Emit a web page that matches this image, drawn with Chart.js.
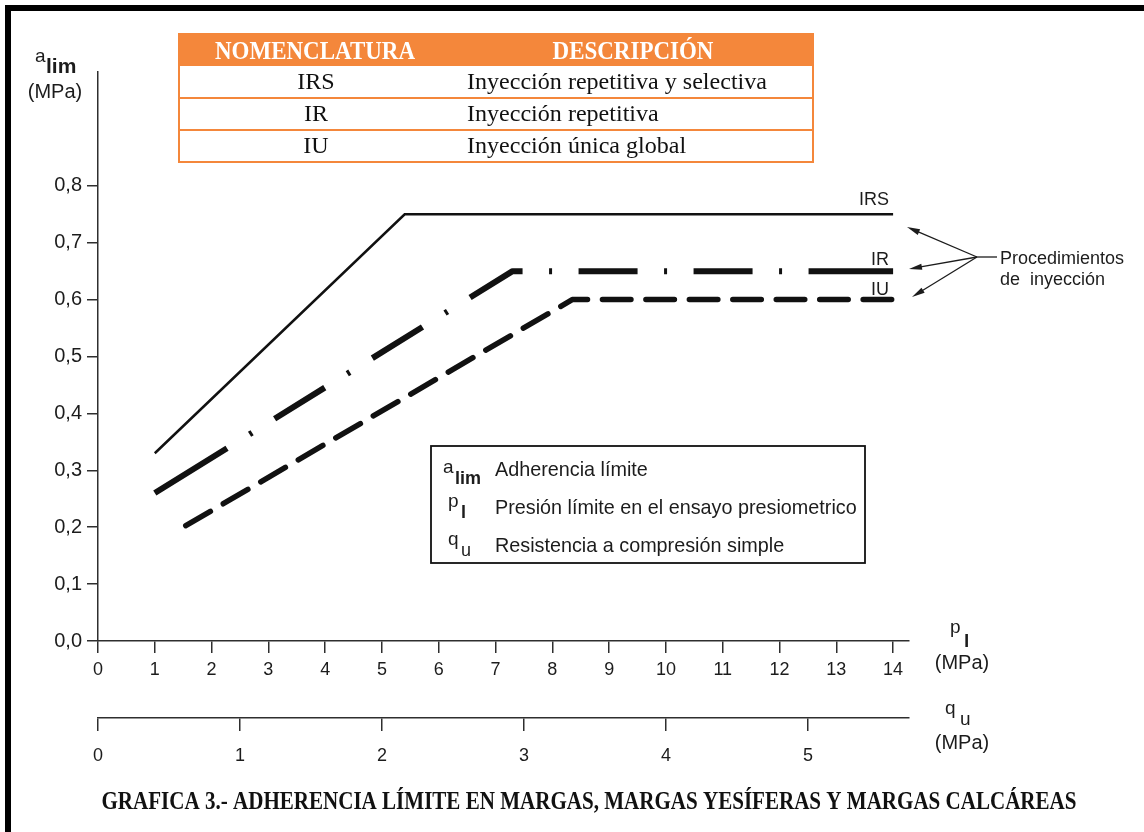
<!DOCTYPE html>
<html>
<head>
<meta charset="utf-8">
<script src="https://cdn.jsdelivr.net/npm/chart.js@4.4.1/dist/chart.umd.min.js"></script>
<style>
  html, body { margin: 0; padding: 0; background: #fff; }
  canvas { display: block; }
</style>
</head>
<body>
<canvas id="chart" width="1144" height="832"></canvas>
<script>
// ---- data ----
const pTicks = [0, 1, 2, 3, 4, 5, 6, 7, 8, 9, 10, 11, 12, 13, 14];
const qTicks = [0, 1, 2, 3, 4, 5];
const aTicks = [0, 0.1, 0.2, 0.3, 0.4, 0.5, 0.6, 0.7, 0.8];
const aTickLabels = ['0,0', '0,1', '0,2', '0,3', '0,4', '0,5', '0,6', '0,7', '0,8'];

const irsX = [1, 5.4, 14];
const irsY = [0.33, 0.75, 0.75];
const irX = [1, 7.3, 14];
const irY = [0.26, 0.65, 0.65];
const iuX = [1.5, 8.35, 14];
const iuY = [0.2, 0.6, 0.6];

const seriesNames = ['IRS', 'IR', 'IU'];
const tableHeaders = ['NOMENCLATURA', 'DESCRIPCIÓN'];
const descriptions = ['Inyección repetitiva y selectiva', 'Inyección repetitiva', 'Inyección única global'];
const symbolMain = ['a', 'p', 'q'];
const symbolSub = ['lim', 'l', 'u'];
const symbolText = ['Adherencia límite', 'Presión límite en el ensayo presiometrico', 'Resistencia a compresión simple'];
const calloutLines = ['Procedimientos', 'de  inyección'];
const chartTitle = 'GRAFICA 3.- ADHERENCIA LÍMITE EN MARGAS, MARGAS YESÍFERAS Y MARGAS CALCÁREAS';

const pMax = 14.28;      // p_l axis runs slightly past the last tick
const qPerP = 1 / 2.5;   // q_u scale relative to p_l

// ---- styles ----
const SANS = '"Liberation Sans", Arial, sans-serif';
const SERIF = '"Liberation Serif", "Times New Roman", serif';
const INK = '#1c1c1c';
const AXIS = '#2e2e2e';
const ORANGE = '#F4873B';

// dash-dot stroke: long end dashes, dash / dot / dash in between
const DOT_GAP = [26.5, 3, 26.5];
const dashDot = [85, ...DOT_GAP, 59, ...DOT_GAP, 59, ...DOT_GAP, 60, ...DOT_GAP, 59, ...DOT_GAP, 59, ...DOT_GAP, 120, 40];

const toPts = (xs, ys) => xs.map((x, i) => ({ x: x, y: ys[i] }));

function scaledText(ctx, text, x, y, k, align) {
  ctx.save();
  ctx.translate(x, y);
  ctx.scale(k, 1);
  ctx.textAlign = align;
  ctx.fillText(text, 0, 0);
  ctx.restore();
}

function arrow(ctx, x0, y0, x1, y1) {
  const ang = Math.atan2(y1 - y0, x1 - x0);
  const len = 13, hw = 3;
  ctx.beginPath();
  ctx.moveTo(x0, y0);
  ctx.lineTo(x1 - Math.cos(ang) * len * 0.8, y1 - Math.sin(ang) * len * 0.8);
  ctx.stroke();
  ctx.beginPath();
  ctx.moveTo(x1, y1);
  ctx.lineTo(x1 - Math.cos(ang) * len - Math.sin(ang) * hw, y1 - Math.sin(ang) * len + Math.cos(ang) * hw);
  ctx.lineTo(x1 - Math.cos(ang) * len + Math.sin(ang) * hw, y1 - Math.sin(ang) * len - Math.cos(ang) * hw);
  ctx.closePath();
  ctx.fill();
}

const decor = {
  id: 'decor',
  beforeDraw(chart) {
    const ctx = chart.ctx;
    ctx.save();
    ctx.fillStyle = '#fff';
    ctx.fillRect(0, 0, chart.width, chart.height);
    // page frame (top and left edges)
    ctx.fillStyle = '#000';
    ctx.fillRect(5, 5, chart.width - 5, 6);
    ctx.fillRect(5, 5, 6, chart.height - 5);
    ctx.restore();
  },
  afterDraw(chart) {
    const ctx = chart.ctx;
    const xs = chart.scales.x, ys = chart.scales.y;
    ctx.save();
    ctx.fillStyle = INK;
    ctx.textBaseline = 'alphabetic';

    // y axis title: a_lim (MPa)
    ctx.textAlign = 'left';
    ctx.font = '19px ' + SANS;
    ctx.fillText('a', 35, 62);
    ctx.font = 'bold 21px ' + SANS;
    ctx.fillText('lim', 46, 73);
    ctx.font = '20px ' + SANS;
    ctx.textAlign = 'center';
    ctx.fillText('(MPa)', 55, 98);

    // p_l axis title
    ctx.textAlign = 'left';
    ctx.font = '19px ' + SANS;
    ctx.fillText('p', 950, 633);
    ctx.font = 'bold 19px ' + SANS;
    ctx.fillText('l', 964, 647);
    ctx.font = '20px ' + SANS;
    ctx.textAlign = 'center';
    ctx.fillText('(MPa)', 962, 669);

    // q_u axis title
    ctx.textAlign = 'left';
    ctx.font = '19px ' + SANS;
    ctx.fillText('q', 945, 714);
    ctx.fillText('u', 960, 725);
    ctx.font = '20px ' + SANS;
    ctx.textAlign = 'center';
    ctx.fillText('(MPa)', 962, 749);

    // series labels at the right end of each curve
    ctx.font = '18px ' + SANS;
    ctx.textAlign = 'right';
    const xr = xs.getPixelForValue(irsX[irsX.length - 1]) - 4;
    ctx.fillText(seriesNames[0], xr, ys.getPixelForValue(irsY[2]) - 9);
    ctx.fillText(seriesNames[1], xr, ys.getPixelForValue(irY[2]) - 6);
    ctx.fillText(seriesNames[2], xr, ys.getPixelForValue(iuY[2]) - 5);

    // callout arrows
    ctx.strokeStyle = INK;
    ctx.lineWidth = 1.3;
    const jx = 977, jy = 257;
    arrow(ctx, jx, jy, 907, 227);
    arrow(ctx, jx, jy, 909, 269);
    arrow(ctx, jx, jy, 912, 297);
    ctx.beginPath();
    ctx.moveTo(jx, jy);
    ctx.lineTo(997, jy);
    ctx.stroke();
    ctx.font = '18px ' + SANS;
    ctx.textAlign = 'left';
    ctx.fillText(calloutLines[0], 1000, 264);
    ctx.fillText(calloutLines[1], 1000, 285);

    // symbols box
    ctx.lineWidth = 1.8;
    ctx.strokeStyle = '#111';
    ctx.strokeRect(431, 446, 434, 117);
    const rowBase = [476, 514, 552];
    const mainX = [443, 448, 448];
    const subX = [455, 461, 461];
    const subBase = [484, 518, 556];
    const mainBase = [473, 507, 545];
    for (let i = 0; i < 3; i++) {
      ctx.font = '19px ' + SANS;
      ctx.fillText(symbolMain[i], mainX[i], mainBase[i]);
      ctx.font = (i < 2 ? 'bold ' : '') + '18px ' + SANS;
      ctx.fillText(symbolSub[i], subX[i], subBase[i]);
      ctx.font = '19.8px ' + SANS;
      ctx.fillText(symbolText[i], 495, rowBase[i]);
    }

    // nomenclature table
    const tl = 179, tr = 813;
    const rowsY = [34, 66, 98, 130, 162];
    ctx.fillStyle = ORANGE;
    ctx.fillRect(tl, rowsY[0], tr - tl, rowsY[1] - rowsY[0]);
    ctx.strokeStyle = ORANGE;
    ctx.lineWidth = 2;
    ctx.strokeRect(tl, rowsY[0], tr - tl, rowsY[4] - rowsY[0]);
    for (let i = 2; i < 4; i++) {
      ctx.beginPath();
      ctx.moveTo(tl, rowsY[i]);
      ctx.lineTo(tr, rowsY[i]);
      ctx.stroke();
    }
    ctx.fillStyle = '#fff';
    ctx.font = 'bold 25px ' + SERIF;
    const kh = 200 / ctx.measureText(tableHeaders[0]).width;
    scaledText(ctx, tableHeaders[0], 315, 59, kh, 'center');
    scaledText(ctx, tableHeaders[1], 633, 59, kh, 'center');
    ctx.fillStyle = '#111';
    ctx.font = '23px ' + SERIF;
    const kd = 300 / ctx.measureText(descriptions[0]).width;
    for (let i = 0; i < 3; i++) {
      const base = rowsY[i + 1] + 23;
      scaledText(ctx, seriesNames[i], 316, base, kd, 'center');
      scaledText(ctx, descriptions[i], 467, base, kd, 'left');
    }

    // caption
    ctx.fillStyle = '#111';
    ctx.font = 'bold 25px ' + SERIF;
    const kt = 975 / ctx.measureText(chartTitle).width;
    scaledText(ctx, chartTitle, 589, 809, kt, 'center');

    ctx.restore();
  }
};

const tickFont = { family: SANS, size: 18 };

new Chart(document.getElementById('chart').getContext('2d'), {
  type: 'scatter',
  data: {
    datasets: [
      {
        label: seriesNames[0], data: toPts(irsX, irsY), showLine: true,
        borderColor: '#111', borderWidth: 2.5, pointRadius: 0,
        borderCapStyle: 'butt', borderJoinStyle: 'miter', fill: false
      },
      {
        label: seriesNames[1], data: toPts(irX, irY), showLine: true,
        borderColor: '#111', borderWidth: 6, pointRadius: 0,
        borderDash: dashDot, borderDashOffset: 0,
        borderCapStyle: 'butt', borderJoinStyle: 'round', fill: false
      },
      {
        label: seriesNames[2], data: toPts(iuX, iuY), showLine: true,
        borderColor: '#111', borderWidth: 5.5, pointRadius: 0,
        borderDash: [28.5, 14.95], borderDashOffset: -3,
        borderCapStyle: 'round', borderJoinStyle: 'round', fill: false
      }
    ]
  },
  options: {
    responsive: false,
    animation: false,
    devicePixelRatio: 1,
    events: [],
    layout: { padding: { left: 0, top: 72, right: 235, bottom: 54 } },
    plugins: { legend: { display: false }, tooltip: { enabled: false }, title: { display: false } },
    scales: {
      x: {
        type: 'linear', position: 'bottom', min: 0, max: pMax, weight: 0,
        afterBuildTicks: (s) => { s.ticks = pTicks.map(v => ({ value: v })); },
        afterFit: (s) => { s.height = 77; },
        ticks: { font: tickFont, color: INK, padding: 6, maxRotation: 0, autoSkip: false,
                 callback: (v, i) => String(pTicks[i]) },
        grid: { drawOnChartArea: false, drawTicks: true, tickLength: 12, color: AXIS, lineWidth: 1.5 },
        border: { display: true, color: AXIS, width: 1.5 }
      },
      x2: {
        type: 'linear', position: 'bottom', min: 0, max: pMax * qPerP, weight: 1,
        afterBuildTicks: (s) => { s.ticks = qTicks.map(v => ({ value: v })); },
        afterFit: (s) => { s.height = 60; },
        ticks: { font: tickFont, color: INK, padding: 14, maxRotation: 0, autoSkip: false,
                 callback: (v, i) => String(qTicks[i]) },
        grid: { drawOnChartArea: false, drawTicks: true, tickLength: 13, color: AXIS, lineWidth: 1.5 },
        border: { display: true, color: AXIS, width: 1.5 }
      },
      y: {
        type: 'linear', position: 'left', min: 0, max: 1.0,
        afterBuildTicks: (s) => { s.ticks = aTicks.map(v => ({ value: v })); },
        afterFit: (s) => { s.width = 98; },
        ticks: { font: { family: SANS, size: 20 }, color: INK, padding: 5, autoSkip: false,
                 callback: (v, i) => aTickLabels[i] },
        grid: { drawOnChartArea: false, drawTicks: true, tickLength: 11, color: AXIS, lineWidth: 1.5 },
        border: { display: true, color: AXIS, width: 1.5 }
      }
    }
  },
  plugins: [decor]
});
</script>
</body>
</html>
